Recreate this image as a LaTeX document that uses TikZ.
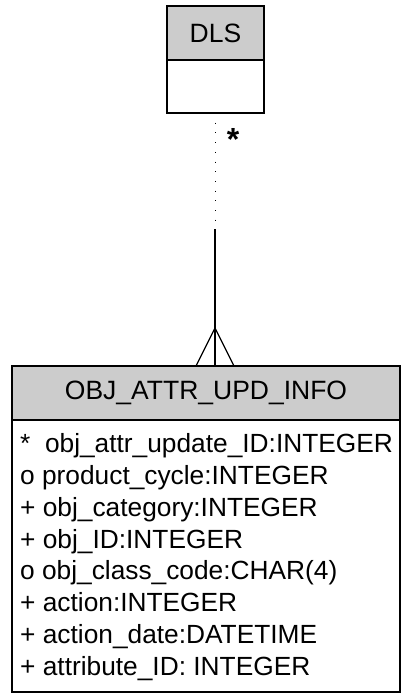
\documentclass[tikz,border=0pt]{standalone}
\usepackage{fontspec}
\setmainfont{Liberation Sans}
\usetikzlibrary{positioning, calc}

\begin{document}
\begin{tikzpicture}[
  x=1pt, y=-1pt,
  hdr/.style={draw, line width=1.6pt, fill=gray!40, outer sep=0pt, inner sep=0pt, minimum width=#1, minimum height=54pt, font=\fontsize{26.5}{30}\selectfont},
  bodybox/.style={draw, line width=1.6pt, fill=white, outer sep=0pt, inner sep=0pt, minimum width=#1},
  conn/.style={line width=1.2pt},
  attrs/.style={align=left, anchor=north west, inner sep=0pt, font=\fontsize{26.3}{31.8}\selectfont}
]
\useasboundingbox (0,0) rectangle (409,693);

% ── DLS ──
\node[hdr=97pt] (dls) at (215.5,33) {DLS};
\node[bodybox=97pt, minimum height=53pt, below=0pt of dls] (dlsbody) {};

% ── OBJ_ATTR_UPD_INFO ──
\node[hdr=388pt] (obj) at (206,393) {OBJ\_ATTR\_UPD\_INFO};
\node[bodybox=388pt, minimum height=272pt, below=0pt of obj] (objbody) {};
\node[attrs] (objattrs) at ($(objbody.north west)+(8,13.5)$) {%
  *\ \ obj\_attr\_update\_ID:INTEGER\\
  o product\_cycle:INTEGER\\
  + obj\_category:INTEGER\\
  + obj\_ID:INTEGER\\
  o obj\_class\_code:CHAR(4)\\
  + action:INTEGER\\
  + action\_date:DATETIME\\
  + attribute\_ID: INTEGER};

% ═══ relationship ═══
\coordinate (brk) at (215,229);
\coordinate (foot) at (215,328);
\draw[line width=1pt, dash pattern=on 1pt off 8.7pt] ($(dlsbody.south)+(-0.5,0)$) -- (brk);
\draw[conn] (brk) -- (obj.north -| brk);
\draw[conn] ($(obj.north -| foot)+(-19,0)$) -- (foot) -- ($(obj.north -| foot)+(19,0)$);
\node[font=\fontsize{32}{32}\selectfont\bfseries] (mult) at (233,139) {*};

\end{tikzpicture}
\end{document}
